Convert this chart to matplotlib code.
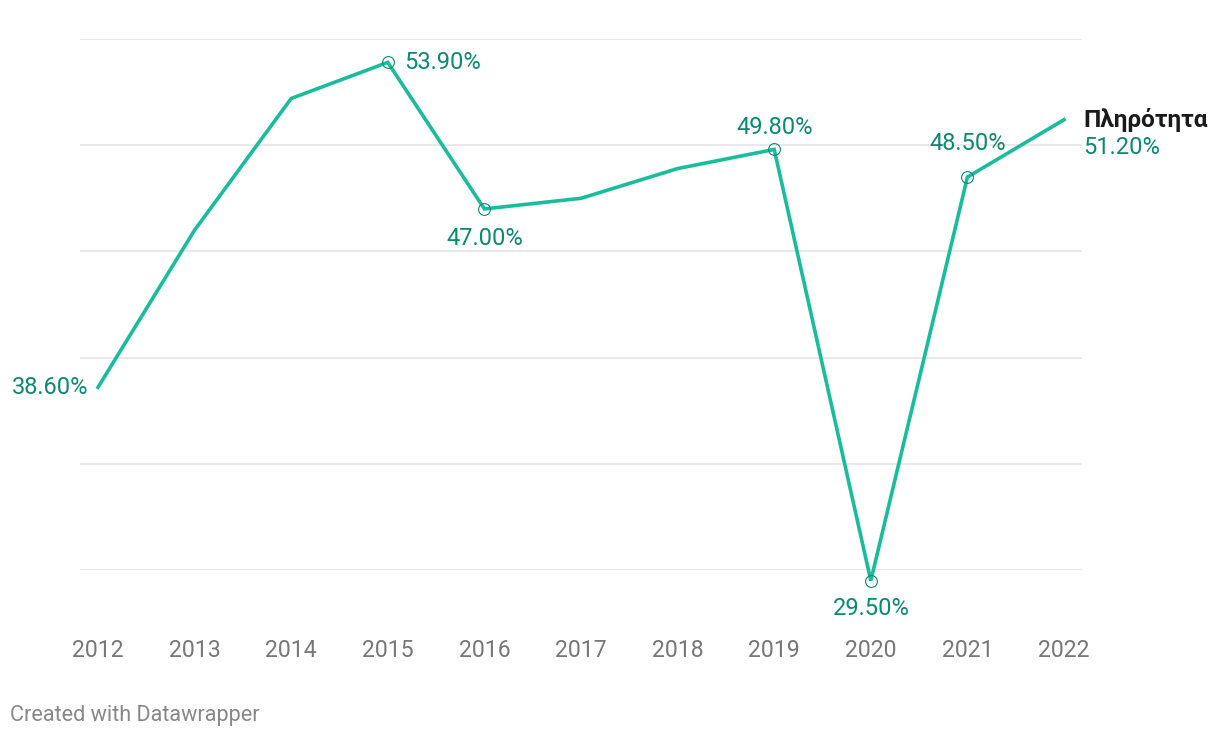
import matplotlib
matplotlib.use("Agg")
import matplotlib.pyplot as plt

years = [2012, 2013, 2014, 2015, 2016, 2017, 2018, 2019, 2020, 2021, 2022]
values = [38.6, 46.0, 52.2, 53.9, 47.0, 47.5, 48.9, 49.8, 29.5, 48.5, 51.2]
series_name = "Πληρότητα"
gridlines = [30, 35, 40, 45, 50, 55]

LINE = "#19bd9c"
LAB = "#0b8a72"

plt.rcParams['font.family'] = ['Roboto', 'DejaVu Sans']

fig = plt.figure(figsize=(12.2, 7.38), dpi=100)
ax = fig.add_axes([80/1220, 168/738, 1002/1220, 531/738])
ax.set_xlim(2011.814, 2022.186)
ax.set_ylim(30, 55)
for s in ax.spines.values():
    s.set_visible(False)
for g in gridlines:
    ax.axhline(g, color="#e3e3e3", lw=1.1, zorder=1)
ax.set_yticks([])
ax.set_xticks(years)
ax.set_xticklabels([str(y) for y in years], fontsize=16.6, color="#777777")
ax.tick_params(axis='x', length=0, pad=50)

ax.plot(years, values, color=LINE, lw=2.6, solid_joinstyle='miter', zorder=3, clip_on=False)

marked = [2015, 2016, 2019, 2020, 2021]
ax.plot(marked, [values[years.index(y)] for y in marked], 'o', ms=8.5, mfc='none',
        mec=LAB, mew=0.8, zorder=4, clip_on=False)

def lab(year, dx, dy, ha, va):
    v = values[years.index(year)]
    ax.annotate(f"{v:.2f}%", (year, v), xytext=(dx, dy), textcoords='offset points',
                ha=ha, va=va, fontsize=17, color=LAB, annotation_clip=False)

lab(2012, -7, 0, 'right', 'center')
lab(2015, 12, 0, 'left', 'center')
lab(2016, 0, -21, 'center', 'center')
lab(2019, 0, 16, 'center', 'center')
lab(2020, 0, -20, 'center', 'center')
lab(2021, 0, 24, 'center', 'center')

v = values[-1]
ax.annotate(series_name, (years[-1], v), xytext=(14, 0), textcoords='offset points',
            ha='left', va='center', fontsize=17.6, fontweight='bold', color="#1a1a1a",
            annotation_clip=False)
ax.annotate(f"{v:.2f}%", (years[-1], v), xytext=(14, -20), textcoords='offset points',
            ha='left', va='center', fontsize=17, color=LAB, annotation_clip=False)

fig.text(10/1220, 1 - 715/738, "Created with Datawrapper", fontsize=15.6, color="#888888",
         ha='left', va='center')

fig.savefig("out.png", dpi=100, facecolor="white")
